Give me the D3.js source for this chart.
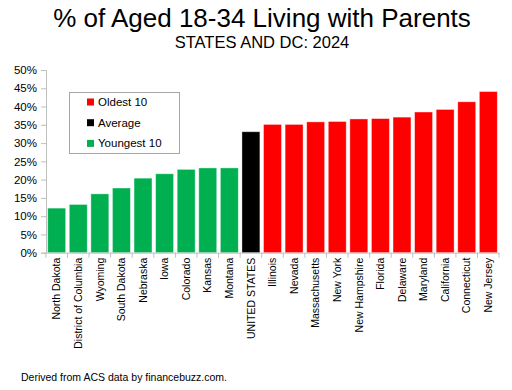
<!DOCTYPE html>
<html>
<head>
<meta charset="utf-8">
<script src="https://cdn.jsdelivr.net/npm/d3@7"></script>
<style>
  body { margin: 0; background: #fff; }
  svg { display: block; }
</style>
</head>
<body>
<svg id="chart"></svg>
<script>
// data
var states = ["North Dakota", "District of Columbia", "Wyoming", "South Dakota", "Nebraska", "Iowa",
  "Colorado", "Kansas", "Montana", "UNITED STATES", "Illinois", "Nevada", "Massachusetts", "New York",
  "New Hampshire", "Florida", "Delaware", "Maryland", "California", "Connecticut", "New Jersey"];
var shares = [12.2, 13.2, 16.1, 17.7, 20.4, 21.6, 22.8, 23.2, 23.2, 33.1, 35.1, 35.1, 35.8, 35.9,
  36.6, 36.7, 37.1, 38.5, 39.2, 41.3, 44.1];
var groups = ["young", "young", "young", "young", "young", "young", "young", "young", "young", "avg",
  "old", "old", "old", "old", "old", "old", "old", "old", "old", "old", "old"];
var legendLabels = ["Oldest 10", "Average", "Youngest 10"];
var legendGroups = ["old", "avg", "young"];
var yTicks = [0, 5, 10, 15, 20, 25, 30, 35, 40, 45, 50];

var colors = { old: "#ff0000", avg: "#000000", young: "#00b050" };
var font = "'Liberation Sans', Arial, sans-serif";

var W = 512, H = 390;
var svg = d3.select("#chart").attr("width", W).attr("height", H);

var plotLeft = 46, plotRight = 499, plotTop = 70, plotBottom = 252.7;

var x = d3.scaleBand().domain(states).range([plotLeft, plotRight]).paddingInner(0.17).paddingOuter(0.08);
var y = d3.scaleLinear().domain([0, 50]).range([plotBottom, plotTop]);

// title
svg.append("text")
  .attr("x", 262).attr("y", 27)
  .attr("text-anchor", "middle")
  .style("font-family", font)
  .style("font-size", "26px")
  .text("% of Aged 18-34 Living with Parents");

svg.append("text")
  .attr("x", 262).attr("y", 48)
  .attr("text-anchor", "middle")
  .style("font-family", font)
  .style("font-size", "16.5px")
  .text("STATES AND DC: 2024");

// bars
svg.append("g")
  .selectAll("rect")
  .data(states)
  .enter()
  .append("rect")
  .attr("x", function(d) { return x(d); })
  .attr("y", function(d, i) { return y(shares[i]); })
  .attr("width", x.bandwidth())
  .attr("height", function(d, i) { return y(0) - y(shares[i]); })
  .attr("fill", function(d, i) { return colors[groups[i]]; })
  .attr("stroke", "#fff")
  .attr("stroke-opacity", 0.45)
  .attr("stroke-width", 0.8);

// y axis
var yAxis = svg.append("g")
  .attr("transform", "translate(" + plotLeft + ",0)")
  .call(d3.axisLeft(y).tickValues(yTicks).tickSize(5).tickPadding(4)
    .tickFormat(function(d) { return d + "%"; }));
yAxis.select(".domain").attr("stroke", "#bfbfbf");
yAxis.selectAll(".tick line").attr("stroke", "#bfbfbf");
yAxis.selectAll("text")
  .style("font-family", font)
  .style("font-size", "11.5px")
  .attr("fill", "#000");

// x axis
var xAxis = svg.append("g")
  .attr("transform", "translate(0," + plotBottom + ")")
  .call(d3.axisBottom(x).tickSize(0).tickPadding(4));
xAxis.select(".domain").attr("stroke", "#bfbfbf");
xAxis.selectAll("text")
  .attr("transform", "rotate(-90)")
  .attr("text-anchor", "end")
  .attr("x", -5)
  .attr("y", 0)
  .attr("dy", "0.35em")
  .style("font-family", font)
  .style("font-size", "10.5px")
  .attr("fill", "#000");

// band separators on x axis
var step = x.step();
var seps = states.map(function(d) { return x(d) - (step - x.bandwidth()) / 2; });
seps.push(plotRight);
svg.append("g")
  .selectAll("line")
  .data(seps)
  .enter()
  .append("line")
  .attr("x1", function(d) { return d; })
  .attr("x2", function(d) { return d; })
  .attr("y1", plotBottom)
  .attr("y2", plotBottom + 5)
  .attr("stroke", "#bfbfbf");

// legend
var lg = svg.append("g");
lg.append("rect")
  .attr("x", 69.5).attr("y", 92.5)
  .attr("width", 110).attr("height", 61)
  .attr("fill", "#fff")
  .attr("stroke", "#a6a6a6");
legendLabels.forEach(function(lab, i) {
  var cy = 102 + i * 20.7;
  lg.append("rect")
    .attr("x", 87).attr("y", cy - 3.5)
    .attr("width", 7).attr("height", 7)
    .attr("fill", colors[legendGroups[i]]);
  lg.append("text")
    .attr("x", 98).attr("y", cy)
    .attr("dy", "0.35em")
    .style("font-family", font)
    .style("font-size", "11.5px")
    .text(lab);
});

// footer
svg.append("text")
  .attr("x", 21).attr("y", 381)
  .style("font-family", font)
  .style("font-size", "10.5px")
  .text("Derived from ACS data by financebuzz.com.");
</script>
</body>
</html>
